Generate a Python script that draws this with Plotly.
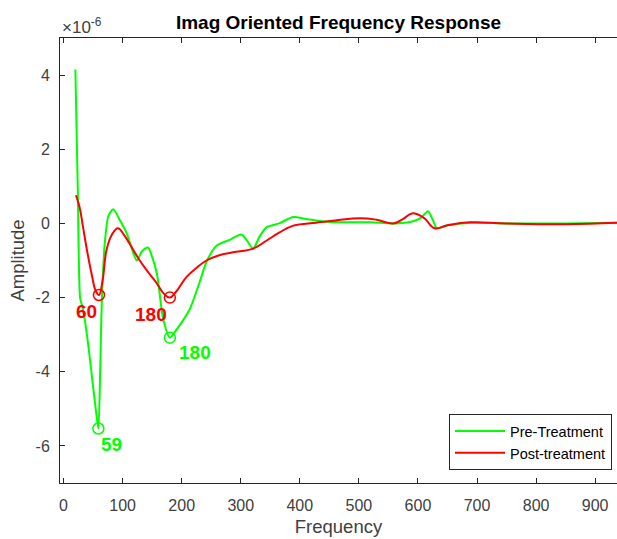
import plotly.graph_objects as go

# Values in units of 1e-6
pre_freq = [20, 24, 28, 31, 35, 42, 50, 56, 59, 62, 65, 70, 76, 84, 95, 107, 116, 124, 133, 143, 150, 158, 169, 180,
            192, 214, 230, 243, 259, 280, 301, 310, 321, 332, 344, 365, 389, 410, 440, 480, 520, 560, 590, 605, 617,
            625, 632, 650, 690, 750, 850, 937]
pre_amp = [4.15, 1.0, -2.0, -2.2, -2.5, -3.3, -4.4, -5.2, -5.53, -4.0, -2.0, -0.5, 0.2, 0.38, 0.1, -0.27, -0.7, -1.0,
           -0.75, -0.65, -0.9, -1.35, -2.6, -3.08, -2.85, -2.3, -1.6, -1.0, -0.6, -0.45, -0.3, -0.45, -0.68, -0.35,
           -0.1, 0.0, 0.17, 0.12, 0.05, 0.03, 0.03, 0.0, 0.05, 0.15, 0.33, 0.1, -0.13, -0.05, 0.02, 0.0, 0.0, 0.02]

post_freq = [21, 27, 33, 40, 48, 54, 60, 66, 73, 82, 92, 102, 112, 129, 145, 158, 170, 180, 190, 208, 225, 242, 265,
             287, 321, 344, 365, 389, 428, 460, 502, 530, 558, 575, 590, 610, 628, 650, 688, 750, 850, 937]
post_amp = [0.76, 0.45, -0.1, -0.75, -1.4, -1.8, -1.93, -1.55, -0.7, -0.3, -0.13, -0.3, -0.55, -1.0, -1.35, -1.62, -1.9,
            -2.0, -1.85, -1.45, -1.2, -1.0, -0.85, -0.78, -0.68, -0.46, -0.25, -0.06, 0.02, 0.08, 0.14, 0.1, 0.0, 0.12,
            0.27, 0.15, -0.13, -0.05, 0.03, 0.0, -0.02, 0.02]

pre_peaks_f = [59, 180]
pre_peaks_a = [-5.53, -3.08]
post_peaks_f = [60, 180]
post_peaks_a = [-1.93, -2.0]

x_ticks = [0, 100, 200, 300, 400, 500, 600, 700, 800, 900]
y_ticks = [-6, -4, -2, 0, 2, 4]

GREEN = "#00ff00"
RED = "#ff0000"
FONT = "Liberation Sans"
AX = "#262626"
TICK = "#404040"

fig = go.Figure()
fig.add_trace(go.Scatter(x=pre_freq, y=pre_amp, mode="lines", name="Pre-Treatment",
                         line=dict(color=GREEN, width=2, shape="spline", smoothing=0.7)))
fig.add_trace(go.Scatter(x=post_freq, y=post_amp, mode="lines", name="Post-treatment",
                         line=dict(color=RED, width=2, shape="spline", smoothing=1.2)))
fig.add_trace(go.Scatter(x=pre_peaks_f, y=pre_peaks_a, mode="markers", showlegend=False,
                         marker=dict(symbol="circle-open", size=11, color=GREEN, line=dict(width=1.5))))
fig.add_trace(go.Scatter(x=post_peaks_f, y=post_peaks_a, mode="markers", showlegend=False,
                         marker=dict(symbol="circle-open", size=11, color=RED, line=dict(width=1.5))))

lbl = dict(family=FONT, size=19)
offsets_pre = [(13, -16), (25, -15)]
offsets_post = [(-12, -17), (-19, -17)]
for f, a, (dx, dy) in zip(pre_peaks_f, pre_peaks_a, offsets_pre):
    fig.add_annotation(x=f, y=a, text=f"<b>{f}</b>", showarrow=False, xshift=dx, yshift=dy,
                       font=dict(color=GREEN, **lbl))
for f, a, (dx, dy) in zip(post_peaks_f, post_peaks_a, offsets_post):
    fig.add_annotation(x=f, y=a, text=f"<b>{f}</b>", showarrow=False, xshift=dx, yshift=dy,
                       font=dict(color=RED, **lbl))

fig.add_annotation(xref="paper", yref="paper", x=0, y=1, xanchor="left", yanchor="bottom", yshift=-1,
                   text="×10<sup>-6</sup>", showarrow=False, font=dict(family=FONT, size=17, color=TICK))

fig.update_layout(
    width=617, height=539,
    margin=dict(l=60, r=0, t=38, b=56),
    paper_bgcolor="white", plot_bgcolor="white",
    title=dict(text="<b>Imag Oriented Frequency Response</b>", x=(60 + 617) / 2 / 617, xanchor="center",
               y=1 - 22 / 539, yanchor="middle", font=dict(family=FONT, size=19, color="black")),
    font=dict(family=FONT, size=16, color=TICK),
    legend=dict(x=0.991, y=0.029, xanchor="right", yanchor="bottom", bgcolor="white",
                bordercolor=AX, borderwidth=1, font=dict(family=FONT, size=14.5, color="black"),
                tracegroupgap=0, itemwidth=50),
    showlegend=True,
)
fig.update_xaxes(range=[-6, 937], tickvals=x_ticks, ticktext=[str(t) for t in x_ticks],
                 ticks="inside", ticklen=5, tickcolor=AX, ticklabelstandoff=8,
                 showline=True, linecolor=AX, linewidth=1, mirror="ticks", showgrid=False, zeroline=False,
                 title=dict(text="Frequency", font=dict(family=FONT, size=18.5, color=TICK), standoff=6),
                 tickfont=dict(family=FONT, size=16, color=TICK))
fig.update_yaxes(range=[-7, 5], tickvals=y_ticks, ticktext=[str(t) for t in y_ticks],
                 ticks="inside", ticklen=5, tickcolor=AX, ticklabelstandoff=6,
                 showline=True, linecolor=AX, linewidth=1, showgrid=False, zeroline=False,
                 title=dict(text="Amplitude", font=dict(family=FONT, size=18.5, color=TICK), standoff=6),
                 tickfont=dict(family=FONT, size=16, color=TICK))

fig.write_html("out.html")
